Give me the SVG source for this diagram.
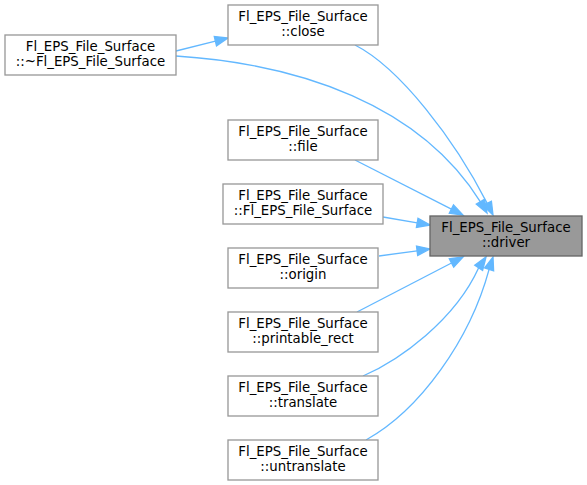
<svg xmlns="http://www.w3.org/2000/svg" width="587" height="485" viewBox="0 0 587 485">
<style>
.node rect{fill:#ffffff;stroke:#999999;stroke-width:1.33}
.node.cur rect{fill:#999999;stroke:#666666}
.node text{font-family:"DejaVu Sans",sans-serif;font-size:13.33px;fill:#000000;text-anchor:middle}
.edges path{fill:none;stroke:#63b8ff;stroke-width:1.33}
.edges polygon{fill:#63b8ff;stroke:#63b8ff;stroke-width:1.33}
</style>
<rect width="587" height="485" fill="#ffffff"/>
<g class="edges" id="edges">
<path d="M176,51 L215.4,41.2"/><polygon points="228,38 216.5,45.8 214.3,36.6"/>
<path d="M176,56 C300,64 420,105 480.4,201.8"/><polygon points="487,213 476.3,204.2 484.5,199.4"/>
<path d="M355,45 C400,68 455,140 487.2,203.4"/><polygon points="493,215 483,205.5 491.4,201.3"/>
<path d="M355,160 L451.4,209.1"/><polygon points="463,215 449.3,213.3 453.5,204.9"/>
<path d="M383,217 L417.2,222.8"/><polygon points="430,225 416.4,227.4 418,218.2"/>
<path d="M379,256 L417.1,250.8"/><polygon points="430,249 417.7,255.5 416.5,246.1"/>
<path d="M357,312 L451.5,263"/><polygon points="463,257 453.7,267.2 449.3,258.8"/>
<path d="M363,376 C400,360 455,320 478.7,267.8"/><polygon points="486,257 482.6,270.4 474.8,265.2"/>
<path d="M366,440 C420,410 470,340 489.1,269.4"/><polygon points="493,257 493.6,270.8 484.6,268"/>
</g>
<g class="node" id="n_dtor"><rect x="5" y="35" width="171" height="40"/><text x="90.5" y="50.5">Fl_EPS_File_Surface</text><text x="90.5" y="65.5">::~Fl_EPS_File_Surface</text></g>
<g class="node" id="n_close"><rect x="228" y="5" width="150" height="40"/><text x="303" y="20.5">Fl_EPS_File_Surface</text><text x="303" y="35.5">::close</text></g>
<g class="node" id="n_file"><rect x="228" y="120" width="150" height="40"/><text x="303" y="135.5">Fl_EPS_File_Surface</text><text x="303" y="150.5">::file</text></g>
<g class="node" id="n_ctor"><rect x="223" y="184" width="160" height="40"/><text x="303" y="199.5">Fl_EPS_File_Surface</text><text x="303" y="214.5">::Fl_EPS_File_Surface</text></g>
<g class="node" id="n_origin"><rect x="228" y="248" width="150" height="40"/><text x="303" y="263.5">Fl_EPS_File_Surface</text><text x="303" y="278.5">::origin</text></g>
<g class="node" id="n_printable"><rect x="228" y="312" width="150" height="40"/><text x="303" y="327.5">Fl_EPS_File_Surface</text><text x="303" y="342.5">::printable_rect</text></g>
<g class="node" id="n_translate"><rect x="228" y="376" width="150" height="40"/><text x="303" y="391.5">Fl_EPS_File_Surface</text><text x="303" y="406.5">::translate</text></g>
<g class="node" id="n_untranslate"><rect x="228" y="440" width="150" height="40"/><text x="303" y="455.5">Fl_EPS_File_Surface</text><text x="303" y="470.5">::untranslate</text></g>
<g class="node cur" id="n_driver"><rect x="430" y="216" width="152" height="40"/><text x="506" y="231.5">Fl_EPS_File_Surface</text><text x="506" y="246.5">::driver</text></g>
</svg>
